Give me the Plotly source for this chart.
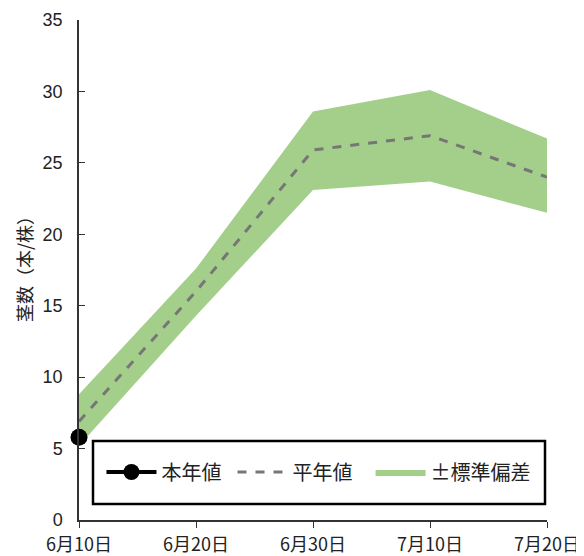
import plotly.graph_objects as go

categories = ["6月10日", "6月20日", "6月30日", "7月10日", "7月20日"]
mean_vals = [6.9, 16.0, 25.9, 26.9, 24.0]
upper_vals = [8.8, 17.6, 28.6, 30.1, 26.7]
lower_vals = [5.2, 14.3, 23.1, 23.7, 21.5]
this_year_cats = ["6月10日"]
this_year_vals = [5.8]

xi = list(range(len(categories)))
xi_this = [categories.index(c) for c in this_year_cats]

FONT = "Liberation Sans, Arial, Noto Sans CJK JP"
JP = "Noto Sans CJK JP"
GREEN = "#a3cf8b"

fig = go.Figure()
fig.add_trace(go.Scatter(x=xi, y=lower_vals, mode="lines", line=dict(width=0, color=GREEN),
                         showlegend=False, hoverinfo="skip"))
fig.add_trace(go.Scatter(x=xi, y=upper_vals, mode="lines", line=dict(width=0, color=GREEN),
                         fill="tonexty", fillcolor=GREEN, name="±標準偏差", legend="legend3"))
fig.add_trace(go.Scatter(x=xi, y=mean_vals, mode="lines",
                         line=dict(color="#767676", width=3, dash="dash"),
                         name="平年値", legend="legend2"))
fig.add_trace(go.Scatter(x=xi_this, y=this_year_vals, mode="lines+markers",
                         line=dict(color="black", width=4),
                         marker=dict(color="black", size=17),
                         name="本年値", legend="legend", cliponaxis=False))

leg_common = dict(orientation="h", yanchor="middle", xanchor="left", y=0.096,
                  bgcolor="rgba(0,0,0,0)", borderwidth=0, itemwidth=50,
                  font=dict(family=JP, size=20, color="#222"))

# page body has an 8px margin, so the figure is drawn 8px smaller and offset
fig.update_layout(
    width=576, height=548,
    margin=dict(l=71, r=37, t=12, b=36),
    plot_bgcolor="white", paper_bgcolor="white",
    font=dict(family=FONT, size=16, color="#222"),
    showlegend=True,
    legend=dict(x=0.048, **leg_common),
    legend2=dict(x=0.328, **leg_common),
    legend3=dict(x=0.623, **leg_common),
    xaxis=dict(
        range=[0, 4], tickmode="array", tickvals=xi, ticktext=categories,
        showline=True, linecolor="#333", linewidth=1.5, showgrid=False, zeroline=False,
        ticks="outside", ticklen=6, tickcolor="#333", automargin=False,
        ticklabelstandoff=2,
        tickfont=dict(family=JP, size=18, color="#222"),
    ),
    yaxis=dict(
        range=[0, 35], tickvals=[0, 5, 10, 15, 20, 25, 30, 35],
        showline=True, linecolor="#333", linewidth=1.5, showgrid=False, zeroline=False,
        ticks="inside", ticklen=6, tickcolor="#333", automargin=False,
        ticklabelstandoff=11,
        tickfont=dict(size=18, color="#222"),
    ),
    shapes=[dict(type="rect", xref="paper", yref="paper",
                 x0=(93 - 79) / 468, x1=(545 - 79) / 468,
                 y0=(520 - 504) / 500, y1=(520 - 441) / 500,
                 line=dict(color="black", width=2.5), fillcolor="white", layer="above")],
    annotations=[dict(text="茎数（本/株）", xref="paper", yref="paper",
                      x=(24 - 79) / 468, y=(520 - 265) / 500, textangle=-90, showarrow=False,
                      xanchor="center", yanchor="middle",
                      font=dict(family=JP, size=18, color="#222"))],
)

fig.write_html("out.html")
